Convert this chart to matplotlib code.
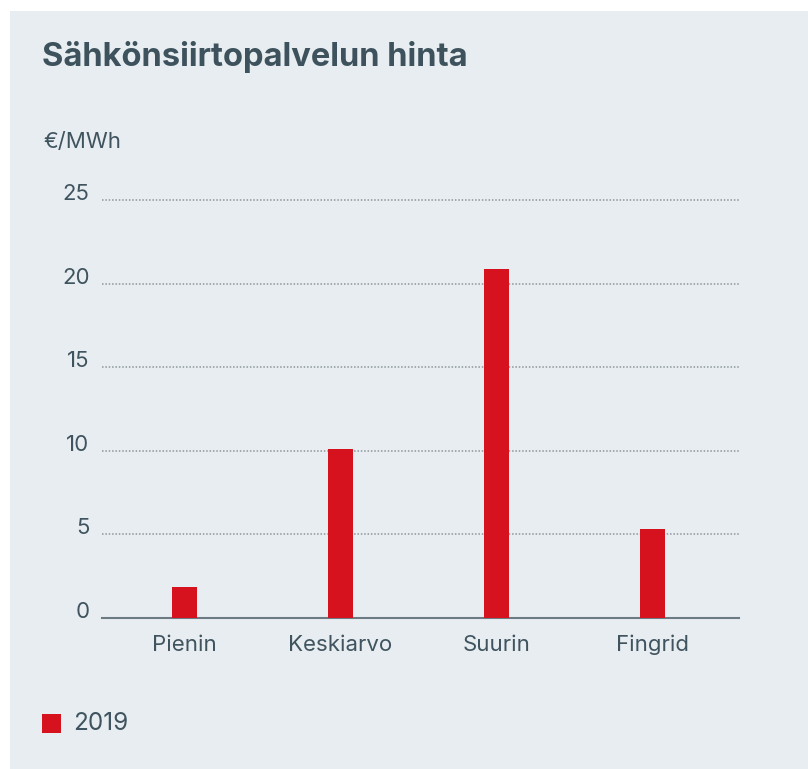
import matplotlib.pyplot as plt
from matplotlib.patches import Rectangle

plt.rcParams['font.family'] = ['Inter', 'DejaVu Sans']

# data
categories = ['Pienin', 'Keskiarvo', 'Suurin', 'Fingrid']
values_2019 = [1.85, 10.1, 20.9, 5.3]
yticks = [0, 5, 10, 15, 20, 25]

bg = '#e8edf1'
red = '#d7121f'
txt = '#3f545f'

W, H = 808, 769
fig = plt.figure(figsize=(W / 100, H / 100), dpi=100, facecolor='white')
fig.patches.append(Rectangle((10 / W, 0), 1 - 10 / W, 1 - 11 / H,
                             transform=fig.transFigure, facecolor=bg,
                             edgecolor='none', zorder=-5))

ax = fig.add_axes([102 / W, 151 / H, 637 / W, 418 / H])
ax.set_facecolor('none')
ax.set_zorder(2)

x = range(len(categories))
ax.bar(x, values_2019, width=0.16, color=red, zorder=3)

ax.set_xlim(-0.53, 3.555)
ax.set_ylim(0, 25)
ax.set_yticks(yticks)
ax.set_xticks(list(x))
ax.set_xticklabels(categories)

for y in yticks[1:]:
    ax.axhline(y, color='#8c969c', linewidth=1.1, linestyle=(0, (1, 1.2)),
               zorder=1, clip_on=False)

for s in ['top', 'right', 'left']:
    ax.spines[s].set_visible(False)
ax.spines['bottom'].set_color('#6b7a83')
ax.spines['bottom'].set_linewidth(1.5)

ax.tick_params(axis='both', length=0, labelsize=16, labelcolor=txt)
ax.tick_params(axis='y', pad=9)
ax.tick_params(axis='x', pad=12)
for lbl in ax.get_yticklabels():
    lbl.set_va('baseline')

fig.text(42 / W, 1 - 57 / H, 'Sähkönsiirtopalvelun hinta', fontsize=23.5,
         fontweight='bold', color='#3d525c', va='center', ha='left')
fig.text(43 / W, 1 - 142 / H, '€/MWh', fontsize=16, color=txt,
         va='center', ha='left')

fig.patches.append(Rectangle((42 / W, 1 - 733 / H), 19 / W, 19 / H,
                             transform=fig.transFigure, facecolor=red,
                             edgecolor='none', zorder=2))
fig.text(73 / W, 1 - 724 / H, '2019', fontsize=17.5, color=txt,
         va='center', ha='left')

fig.savefig('out.png', dpi=100, facecolor='white')
